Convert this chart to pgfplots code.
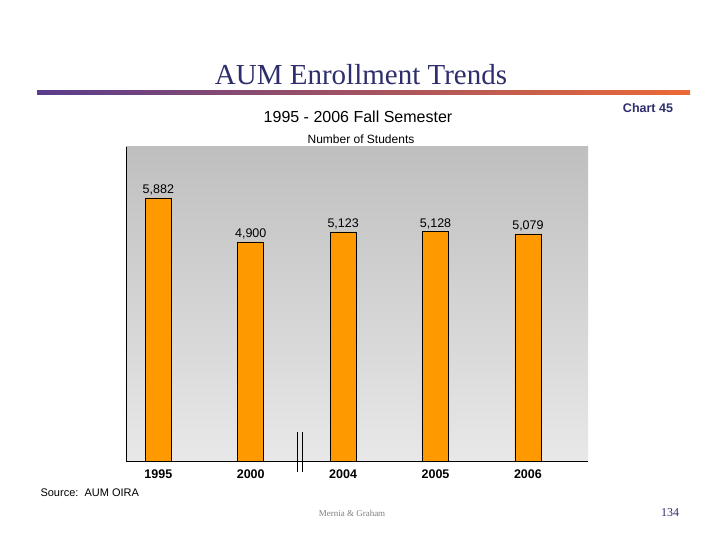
\documentclass[border=0pt]{standalone}
\usepackage{pgfplots}
\pgfplotsset{compat=1.18}
\usepackage{fontspec}
\setmainfont{Liberation Sans}
\newfontfamily\serif{Liberation Serif}
\definecolor{navy}{HTML}{2E2E6E}
\definecolor{barorange}{HTML}{FF9900}
\definecolor{linepurple}{HTML}{5A3C8C}
\definecolor{lineorange}{HTML}{EC6A36}
\begin{document}
\begin{tikzpicture}[x=1pt,y=1pt]
\fill[white] (0pt,0pt) rectangle (720pt,540pt);
\shade[left color=linepurple, right color=lineorange] (37pt,445.5pt) rectangle (690pt,449pt);
\node[font=\serif\fontsize{29}{32}\selectfont, text=navy] at (361pt,465pt) {AUM Enrollment Trends};
\node[font=\fontsize{16}{18}\selectfont] at (358pt,423pt) {1995 - 2006 Fall Semester};
\node[font=\bfseries\fontsize{12.5}{14}\selectfont, text=navy] at (648pt,432pt) {Chart 45};
\node[font=\fontsize{12}{14}\selectfont] at (361pt,401pt) {Number of Students};
\node[font=\fontsize{11}{13}\selectfont, anchor=west] at (37pt,47pt) {Source:\ \ AUM OIRA};
\node[font=\serif\fontsize{9}{10}\selectfont, text=gray] at (352pt,27pt) {Mernia \& Graham};
\node[font=\serif\fontsize{12}{14}\selectfont, text=navy] at (670pt,27pt) {134};
\begin{axis}[
  at={(126pt,79pt)}, anchor=south west,
  scale only axis, width=462pt, height=314pt,
  xmin=-0.35, xmax=4.65, ymin=0, ymax=7020,
  axis x line=bottom, axis y line=left,
  axis line style={-, black, line width=0.8pt},
  axis background/.style={top color=black!25, bottom color=black!9},
  xtick={0,1,2,3,4},
  xticklabels={1995,2000,2004,2005,2006},
  xticklabel style={font=\bfseries\fontsize{12.5}{14}\selectfont, yshift=-5pt},
  major tick length=0pt,
  ytick=\empty,
  clip=false,
]
\addplot[ybar, bar width=26pt, fill=barorange, draw=black, line width=0.6pt,
  nodes near coords, nodes near coords style={font=\fontsize{12.5}{14}\selectfont, /pgf/number format/assume math mode=true, /pgf/number format/1000 sep={,}, anchor=south, yshift=-1pt}]
  coordinates {(0,5882) (1,4900) (2,5123) (3,5128) (4,5079)};
\addplot[black, line width=0.6pt] coordinates {(1.505,-250) (1.505,650)};
\addplot[black, line width=0.6pt] coordinates {(1.56,-250) (1.56,650)};
\end{axis}
\end{tikzpicture}
\end{document}
